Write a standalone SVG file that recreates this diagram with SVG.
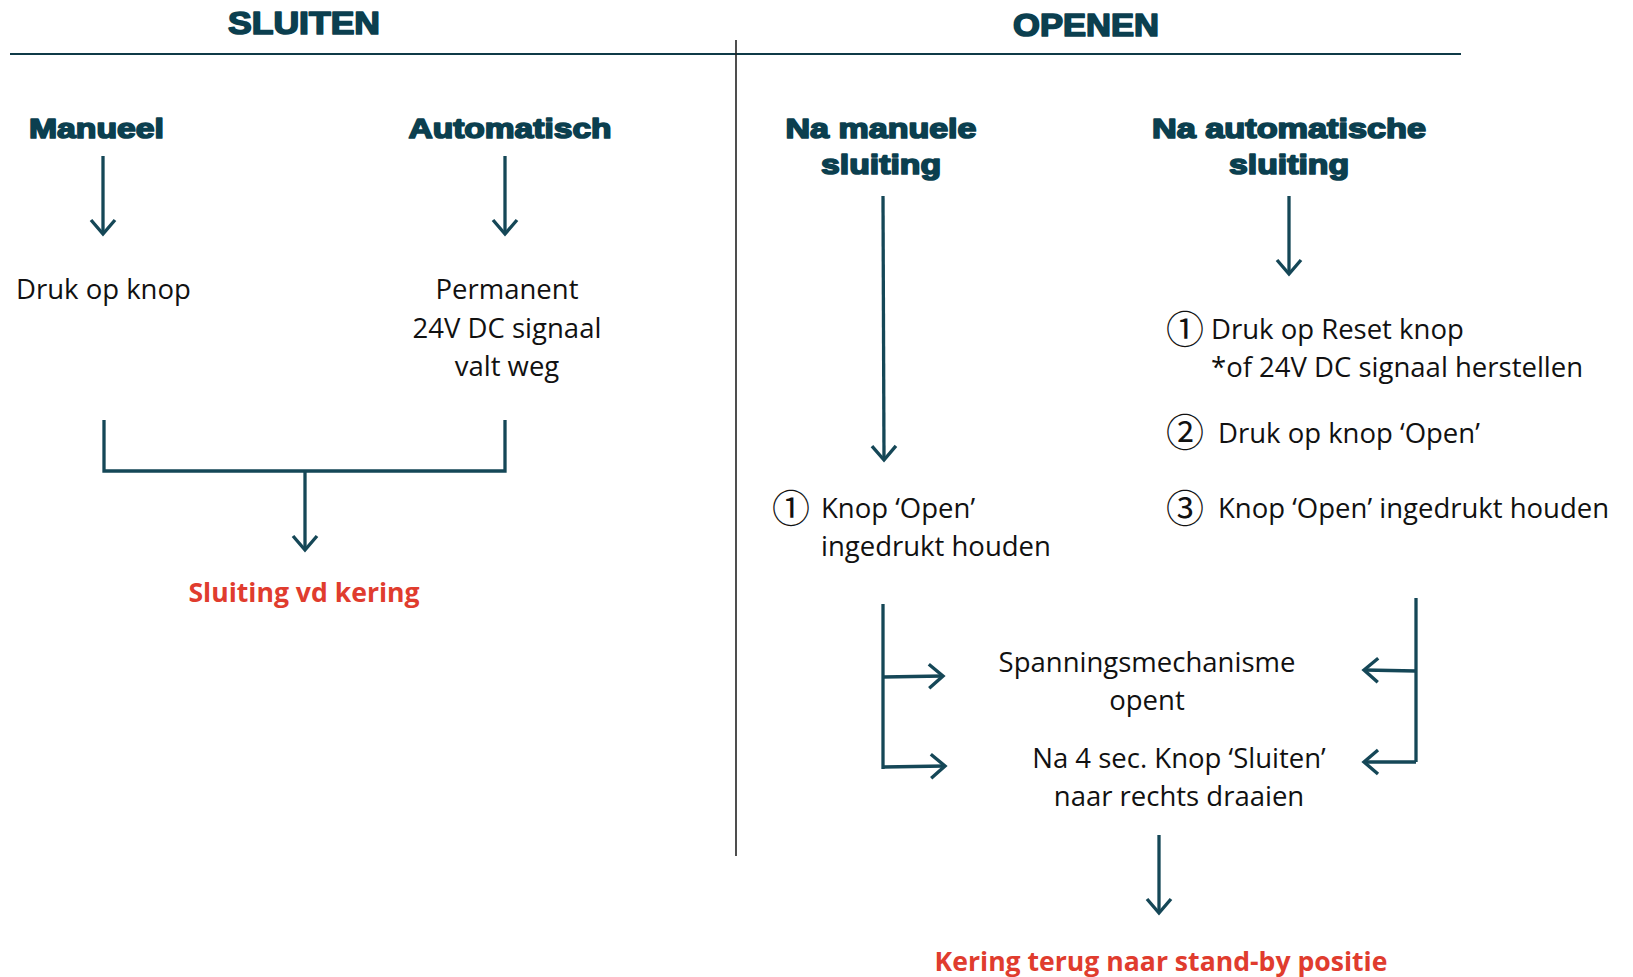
<svg xmlns="http://www.w3.org/2000/svg" width="1633" height="977" viewBox="0 0 1633 977">
<defs>
<marker id="ah" markerUnits="userSpaceOnUse" markerWidth="40" markerHeight="40" viewBox="-20 -20 40 40" refX="0" refY="0" orient="auto">
<path d="M-14,-12 L0,0 L-14,12" fill="none" stroke="#154757" stroke-width="3.4" stroke-linejoin="miter"/>
</marker>
</defs>
<style>
.h{font-family:"Liberation Sans",Arial,sans-serif;font-weight:bold;fill:#0b3f4f;stroke:#0b3f4f;stroke-width:1.7;stroke-linejoin:round}
.t{font-family:"Open Sans","Noto Sans",sans-serif;font-size:27.5px;fill:#111}
.c{font-family:"Noto Sans CJK JP","DejaVu Sans",sans-serif;font-size:38px;fill:#111}
.r{font-family:"Open Sans","Noto Sans",sans-serif;font-size:26.6px;font-weight:bold;fill:#e03c2e}
.ln{fill:none;stroke:#154757;stroke-width:3.3}
.ar{fill:none;stroke:#154757;stroke-width:3.3;marker-end:url(#ah)}
</style>
<rect width="1633" height="977" fill="#ffffff"/>

<g id="frame">
<line x1="10" y1="54" x2="1461" y2="54" stroke="#0f3a47" stroke-width="2"/>
<line x1="736" y1="40" x2="736" y2="856" stroke="#222" stroke-width="1.6"/>
</g>

<g id="titles">
<text class="h" x="304" y="34" font-size="32" text-anchor="middle" textLength="152" lengthAdjust="spacingAndGlyphs">SLUITEN</text>
<text class="h" x="1086" y="36" font-size="32" text-anchor="middle" textLength="146" lengthAdjust="spacingAndGlyphs">OPENEN</text>
</g>

<g id="n-manueel"><text class="h" x="29" y="138" font-size="28" textLength="135" lengthAdjust="spacingAndGlyphs">Manueel</text></g>
<g id="n-automatisch"><text class="h" x="510" y="138" font-size="28" text-anchor="middle" textLength="203" lengthAdjust="spacingAndGlyphs">Automatisch</text></g>
<g id="n-na-manuele"><text class="h" x="881" y="138" font-size="28" text-anchor="middle" textLength="191" lengthAdjust="spacingAndGlyphs">Na manuele</text><text class="h" x="881" y="174" font-size="28" text-anchor="middle" textLength="120" lengthAdjust="spacingAndGlyphs">sluiting</text></g>
<g id="n-na-automatische"><text class="h" x="1289" y="138" font-size="28" text-anchor="middle" textLength="274" lengthAdjust="spacingAndGlyphs">Na automatische</text><text class="h" x="1289" y="174" font-size="28" text-anchor="middle" textLength="120" lengthAdjust="spacingAndGlyphs">sluiting</text></g>

<g id="n-druk"><text class="t" x="16" y="299">Druk op knop</text></g>
<g id="n-permanent"><text class="t" x="507" y="299" text-anchor="middle">Permanent</text><text class="t" x="507" y="337.5" text-anchor="middle">24V DC signaal</text><text class="t" x="507" y="376" text-anchor="middle">valt weg</text></g>
<g id="n-sluiting"><text class="r" x="304" y="602" text-anchor="middle">Sluiting vd kering</text></g>

<g id="n-knop-open"><text class="c" x="791" y="522" text-anchor="middle">①</text><text class="t" x="821" y="518">Knop ‘Open’</text><text class="t" x="821" y="556">ingedrukt houden</text></g>
<g id="n-reset"><text class="c" x="1185" y="343" text-anchor="middle">①</text><text class="t" x="1211" y="338.5">Druk op Reset knop</text><text class="t" x="1211" y="377">*of 24V DC signaal herstellen</text></g>
<g id="n-open"><text class="c" x="1185" y="446" text-anchor="middle">②</text><text class="t" x="1218" y="442.5">Druk op knop ‘Open’</text></g>
<g id="n-houden"><text class="c" x="1185" y="522" text-anchor="middle">③</text><text class="t" x="1218" y="517.5">Knop ‘Open’ ingedrukt houden</text></g>

<g id="n-spanning"><text class="t" x="1147" y="672" text-anchor="middle">Spanningsmechanisme</text><text class="t" x="1147" y="710" text-anchor="middle">opent</text></g>
<g id="n-na4"><text class="t" x="1179" y="767.5" text-anchor="middle">Na 4 sec. Knop ‘Sluiten’</text><text class="t" x="1179" y="806" text-anchor="middle">naar rechts draaien</text></g>
<g id="n-kering"><text class="r" x="1161" y="971" text-anchor="middle">Kering terug naar stand-by positie</text></g>

<g id="connectors">
<line class="ar" x1="103" y1="156" x2="103" y2="234"/>
<line class="ar" x1="505" y1="156" x2="505" y2="234"/>
<polyline class="ln" points="104,420 104,471 505,471 505,420"/>
<line class="ar" x1="305" y1="471" x2="305" y2="550"/>
<line class="ar" x1="883" y1="196" x2="884" y2="460"/>
<line class="ar" x1="1289" y1="196" x2="1289" y2="274"/>
<polyline class="ln" points="883,604 883,769"/>
<line class="ar" x1="883" y1="677" x2="943" y2="676"/>
<line class="ar" x1="883" y1="767" x2="945" y2="766"/>
<polyline class="ln" points="1416,598 1416,762"/>
<line class="ar" x1="1416" y1="671" x2="1364" y2="670"/>
<line class="ar" x1="1416" y1="762" x2="1364" y2="762"/>
<line class="ar" x1="1159" y1="835" x2="1159" y2="913"/>
</g>
</svg>
